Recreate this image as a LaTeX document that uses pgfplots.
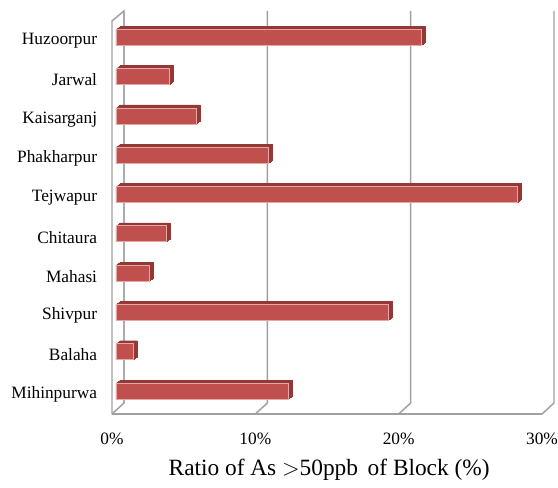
\documentclass[border=0pt]{standalone}
\usepackage{pgfplots}
\usepackage{pgfplotstable}
\pgfplotsset{compat=1.18}
\usetikzlibrary{calc}
\usepackage{fontspec}
\setmainfont{Liberation Serif}
\definecolor{barred}{HTML}{C0504D}
\definecolor{bardark}{HTML}{953735}
\definecolor{baredge}{HTML}{E2A9A7}
\definecolor{gridgray}{HTML}{A0A0A0}
\pgfplotstableread{
pos val
0 12.0
1 1.2
2 19.0
3 2.3
4 3.5
5 28.0
6 10.6
7 5.6
8 3.7
9 21.3
}\datatable
\begin{document}
\begin{tikzpicture}
\begin{axis}[
  scale only axis,
  width=322.5pt, height=294.75pt,
  xmin=0, xmax=30,
  ymin=-0.5, ymax=9.5,
  xtick={0,10,20,30},
  xticklabels={0\%,10\%,20\%,30\%},
  ytick={0,...,9},
  yticklabels={Mihinpurwa,Balaha,Shivpur,Mahasi,Chitaura,Tejwapur,Phakharpur,Kaisarganj,Jarwal,Huzoorpur},
  tick style={draw=none},
  axis line style={draw=none},
  ticklabel style={font=\fontsize{13}{15}\selectfont},
  xticklabel style={anchor=base, inner sep=0pt, yshift=-23pt},
  yticklabel style={anchor=east, inner sep=0pt, xshift=-11pt},
  xlabel={Ratio of As $>$50ppb\ \,of Block (\%)},
  xlabel style={font=\fontsize{17.5}{20}\selectfont, at={(axis description cs:0.505,0)}, anchor=base, inner sep=0pt, yshift=-46pt},
  clip=false,
]
% bounding box matching the reference proportions
\path (axis cs:0,-0.5) ++(-84pt,-54.75pt) rectangle ++(418.5pt,365.25pt);
% 3D frame: left wall, floor diagonals and back-wall grid lines
\draw[gridgray, line width=1.1pt] (axis cs:0,-0.5) -- (axis cs:0,9.5) -- ++(9pt,7.5pt) -- ($(axis cs:0,-0.5)+(9pt,8.25pt)$);
\draw[gridgray, line width=1.1pt] (axis cs:0,-0.5) -- (axis cs:30,-0.5);
\pgfplotsinvokeforeach{0,10,20,30}{
  \draw[gridgray, line width=1.1pt] (axis cs:#1,-0.5) -- ++(9pt,8.25pt) -- ($(axis cs:#1,9.5)+(9pt,7.5pt)$);
}
% bar depth (top and side faces)
\addplot[xbar, bar width=12pt, fill=bardark, draw=bardark, line width=0.3pt, xshift=3.75pt, yshift=3.05pt, forget plot] table[x=val, y=pos] {\datatable};
\addplot[xbar, bar width=12pt, fill=bardark, draw=bardark, line width=0.3pt, xshift=4.5pt, yshift=3.6pt, forget plot] table[x=val, y=pos] {\datatable};
\addplot[xbar, bar width=12pt, fill=bardark, draw=bardark, line width=0.3pt, xshift=5.25pt, yshift=4.2pt, forget plot] table[x=val, y=pos] {\datatable};
\addplot[xbar, bar width=12pt, fill=bardark, draw=bardark, line width=0.3pt, xshift=6pt, yshift=4.75pt, forget plot] table[x=val, y=pos] {\datatable};
% front faces
\addplot[xbar, bar width=12pt, fill=barred, draw=baredge, line width=0.5pt, xshift=3pt, yshift=2.5pt] table[x=val, y=pos] {\datatable};
\end{axis}
\end{tikzpicture}
\end{document}
